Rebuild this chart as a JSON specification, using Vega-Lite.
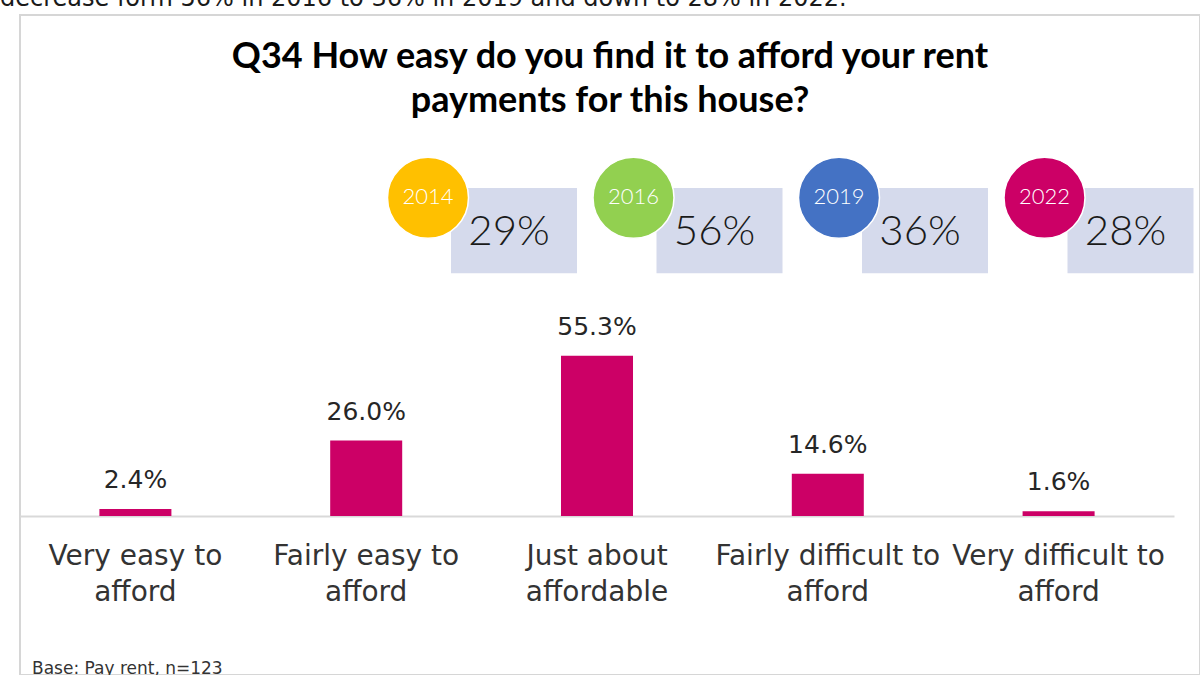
{
  "$schema": "https://vega.github.io/schema/vega-lite/v6.json",
  "width": 1180,
  "height": 660,
  "autosize": {"type": "none"},
  "padding": {"left": 20, "top": 15, "right": 0, "bottom": 0},
  "background": "white",
  "config": {"view": {"stroke": "#d6d6d6", "strokeWidth": 2}},
  "datasets": {
    "bars": [
      {"category": "Very easy to afford", "catLabel": "Very easy to\nafford", "value": 2.4, "label": "2.4%"},
      {"category": "Fairly easy to afford", "catLabel": "Fairly easy to\nafford", "value": 26.0, "label": "26.0%"},
      {"category": "Just about affordable", "catLabel": "Just about\naffordable", "value": 55.3, "label": "55.3%"},
      {"category": "Fairly difficult to afford", "catLabel": "Fairly difficult to\nafford", "value": 14.6, "label": "14.6%"},
      {"category": "Very difficult to afford", "catLabel": "Very difficult to\nafford", "value": 1.6, "label": "1.6%"}
    ],
    "years": [
      {"year": "2014", "pct": "29%"},
      {"year": "2016", "pct": "56%"},
      {"year": "2019", "pct": "36%"},
      {"year": "2022", "pct": "28%"}
    ]
  },
  "layer": [
    {
      "data": {"name": "bars"},
      "encoding": {
        "x": {
          "field": "category",
          "type": "nominal",
          "sort": null,
          "scale": {"type": "band", "domain": ["Very easy to afford", "Fairly easy to afford", "Just about affordable", "Fairly difficult to afford", "Very difficult to afford"], "range": [0, 1154], "paddingInner": 0, "paddingOuter": 0},
          "axis": {"title": null, "labels": false, "ticks": false, "grid": false, "domain": true, "domainColor": "#d9d9d9", "domainWidth": 2, "offset": -159}
        }
      },
      "layer": [
        {
          "mark": {"type": "bar", "color": "#CC0066", "width": {"band": 0.312}},
          "encoding": {
            "y": {"field": "value", "type": "quantitative", "scale": {"domain": [0, 100], "range": [501, 211], "nice": false, "zero": false}, "axis": null}
          }
        },
        {
          "mark": {"type": "text", "font": "DejaVu Sans", "fontSize": 25, "color": "#262626", "baseline": "middle", "dy": -29},
          "encoding": {
            "y": {"field": "value", "type": "quantitative", "axis": null},
            "text": {"field": "label"}
          }
        },
        {
          "mark": {"type": "text", "font": "DejaVu Sans", "fontSize": 28, "color": "#333333", "baseline": "middle", "lineBreak": "\n", "lineHeight": 36},
          "encoding": {
            "y": {"datum": -14.1, "type": "quantitative", "axis": null},
            "text": {"field": "catLabel"}
          }
        }
      ]
    },
    {
      "data": {"name": "years"},
      "encoding": {
        "x": {
          "field": "year",
          "type": "nominal",
          "sort": null,
          "scale": {"type": "point", "domain": ["2014", "2016", "2019", "2022"], "range": [408, 1024.5], "padding": 0},
          "axis": null
        }
      },
      "layer": [
        {
          "mark": {"type": "point", "shape": "M-1,-0.675H1V0.675H-1Z", "filled": true, "size": 15876, "color": "#D5DAEC", "opacity": 1, "strokeWidth": 0, "xOffset": 86},
          "encoding": {"y": {"datum": 98.4, "type": "quantitative", "axis": null}}
        },
        {
          "mark": {"type": "point", "shape": "circle", "filled": true, "size": 6561, "opacity": 1, "stroke": "white", "strokeWidth": 1.5},
          "encoding": {
            "y": {"datum": 109.7, "type": "quantitative", "axis": null},
            "color": {"field": "year", "type": "nominal", "scale": {"domain": ["2014", "2016", "2019", "2022"], "range": ["#FFC000", "#92D050", "#4472C4", "#CC0066"]}, "legend": null}
          }
        },
        {
          "mark": {"type": "text", "font": "Lato", "fontWeight": 300, "fontSize": 22, "color": "white", "baseline": "middle"},
          "encoding": {
            "y": {"datum": 110.0, "type": "quantitative", "axis": null},
            "text": {"field": "year"}
          }
        },
        {
          "mark": {"type": "text", "font": "Lato", "fontWeight": 300, "fontSize": 42, "color": "#1a1a1a", "baseline": "middle", "xOffset": 81},
          "encoding": {
            "y": {"datum": 97.9, "type": "quantitative", "axis": null},
            "text": {"field": "pct"}
          }
        }
      ]
    },
    {
      "data": {"values": [{"t": "Q34 How easy do you find it to afford your rent\npayments for this house?"}]},
      "mark": {"type": "text", "font": "Lato", "fontWeight": "bold", "fontSize": 36, "color": "#000000", "baseline": "middle", "lineBreak": "\n", "lineHeight": 44},
      "encoding": {
        "y": {"datum": 158.3, "type": "quantitative", "axis": null},
        "text": {"field": "t"}
      }
    },
    {
      "data": {"values": [{"t": "decrease form 56% in 2016 to 36% in 2019 and down to 28% in 2022."}]},
      "mark": {"type": "text", "font": "DejaVu Sans", "fontSize": 24, "color": "#1a1a1a", "baseline": "alphabetic", "align": "left", "xOffset": -610},
      "encoding": {
        "y": {"datum": 175.9, "type": "quantitative", "axis": null},
        "text": {"field": "t"}
      }
    },
    {
      "data": {"values": [{"t": "Base: Pay rent, n=123"}]},
      "mark": {"type": "text", "font": "DejaVu Sans", "fontSize": 17, "color": "#333333", "baseline": "alphabetic", "align": "left", "xOffset": -578},
      "encoding": {
        "y": {"datum": -54.5, "type": "quantitative", "axis": null},
        "text": {"field": "t"}
      }
    }
  ],
  "resolve": {"scale": {"x": "independent"}}
}
